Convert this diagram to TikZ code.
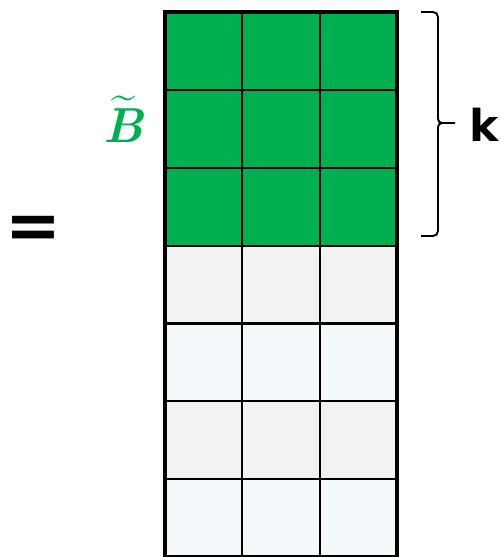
\documentclass[tikz,border=0pt]{standalone}
\usepackage{fontspec}
\usepackage{amsmath}
\newfontfamily\labelfont{DejaVu Sans}
\usetikzlibrary{positioning}

\definecolor{kgreen}{HTML}{00B050}
\definecolor{restgray}{HTML}{F2F2F2}
\definecolor{restblue}{HTML}{F3F8FB}

\begin{document}
\begin{tikzpicture}[x=0.02cm, y=-0.02cm,
  cell/.style={draw, line width=1.2pt, inner sep=0pt, outer sep=0pt, minimum width=1.5467cm, minimum height=1.5571cm},
  brace/.style={line width=1.1pt, line join=round}]
\useasboundingbox (0,0) rectangle (500,557);
% cells: three green rows, then alternating grey / blue
\foreach \r/\col in {1/kgreen,2/kgreen,3/kgreen,4/restgray,5/restblue,6/restgray,7/restblue}{
  \foreach \c in {1,2,3}{
    \node[cell, fill=\col] (c-\r-\c) at ({203.67+77.33*(\c-1)}, {50.93+77.86*(\r-1)}) {};
  }
}
\draw[line width=1.8pt] (c-1-1.north west) rectangle (c-7-3.south east);
% label of the kept block
\node[text=kgreen, font=\fontsize{28}{28}\selectfont] (btil) at (124,119) {$\widetilde{\text{\bfseries\itshape B}}$};
\node[font=\labelfont\bfseries\fontsize{38}{38}\selectfont] (eq) at (33,232) {=};
% brace over the first k rows
\coordinate (bt) at (421,12);
\coordinate (bb) at (421,236);
\coordinate (tip) at (455,123);
\draw[brace] (bt) -- (433,12) to[out=0,in=90] (438,17) -- (438,119) to[out=-90,in=180] (442,123) -- (tip);
\draw[brace] (442,123) to[out=180,in=90] (438,127) -- (438,231) to[out=-90,in=0] (433,236) -- (bb);
\node[font=\labelfont\bfseries\fontsize{25}{25}\selectfont, anchor=west, inner sep=0pt] (k) at (469,125) {k};
\end{tikzpicture}
\end{document}
